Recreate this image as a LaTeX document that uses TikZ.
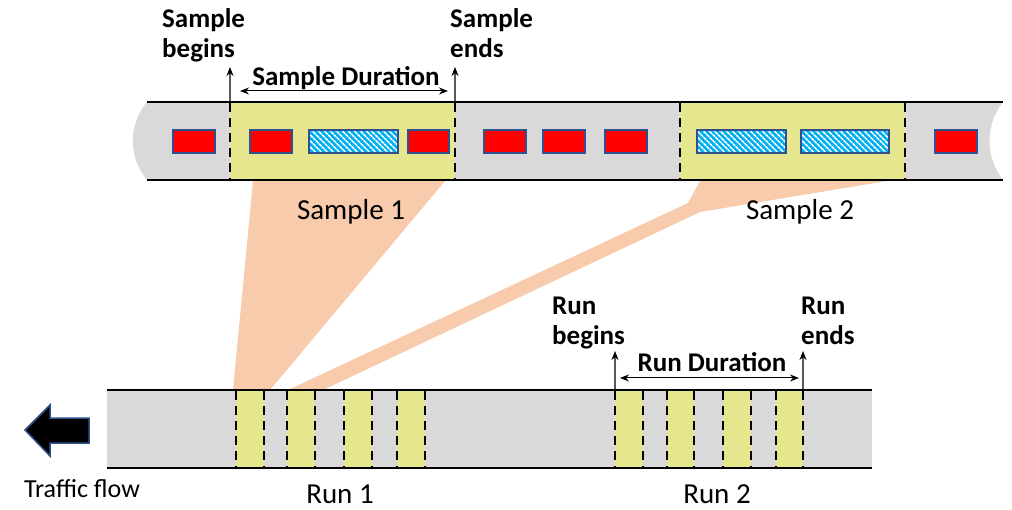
\documentclass[tikz,border=0pt]{standalone}
\usepackage{fontspec}
\setmainfont{Carlito}
\usetikzlibrary{arrows.meta,patterns.meta}
\definecolor{roadgrey}{RGB}{217,217,217}
\definecolor{sampyel}{RGB}{230,230,142}
\definecolor{peach}{RGB}{248,203,173}
\definecolor{carred}{RGB}{255,0,0}
\definecolor{carborder}{RGB}{47,82,143}
\definecolor{hatchblue}{RGB}{0,176,240}
\begin{document}
\begin{tikzpicture}[x=1pt,y=-1pt,
  roadedge/.style={line width=2.5pt,black},
  dashsep/.style={line width=2.6pt,black,dash pattern=on 9pt off 6pt},
  yelbox/.style={fill=sampyel,draw=none},
  car/.style={fill=carred,draw=carborder,line width=1.2pt},
  hatchcar/.style={fill=hatchblue,postaction={pattern={Lines[angle=-45,distance=4pt,line width=1.7pt]},pattern color=white},postaction={draw=carborder,line width=1.2pt}},
  wedge/.style={fill=peach,draw=none},
  marker/.style={gray!70!black,line width=1.1pt,-{Stealth[length=9pt,width=7pt,black]}},
  span/.style={black,line width=1pt,{Stealth[length=9pt,width=7pt]}-{Stealth[length=9pt,width=7pt]}},
  lab/.style={inner sep=0pt,font=\fontsize{29}{32}\selectfont},
  smalllab/.style={inner sep=0pt,font=\fontsize{26}{30}\selectfont},
  boldlab/.style={inner sep=0pt,font=\fontsize{27}{30}\selectfont\bfseries},
  flowarrow/.style={fill=black,draw=carborder,line width=1.5pt}
]
\useasboundingbox (0,0) rectangle (1012,510);

% zoom wedges
\fill[wedge] (253,181) -- (445,181) -- (270,390) -- (233,390) -- cycle;
\fill[wedge] (700,181) -- (887,181) -- (700,212) -- (323,390) -- (288,390) -- (688,203) -- cycle;

% upper road
\fill[roadgrey] (147,102) -- (1003,102) .. controls (985,125) and (985,157) .. (1003,180)
  -- (147,180) .. controls (128,157) and (128,125) .. (147,102) -- cycle;
\fill[yelbox] (230,102) rectangle (455,180);
\fill[yelbox] (680,102) rectangle (905,180);
\foreach \xx in {230,455,680,905} \draw[dashsep] (\xx,103) -- (\xx,180);
\draw[roadedge] (147,102) -- (1003,102);
\draw[roadedge] (147,180) -- (1003,180);

% cars
\foreach \xa/\xb in {173/215,250/292,408/449,484/526,543/585,605/647,935/977}
  \draw[car] (\xa,130) rectangle (\xb,153);
\foreach \xa/\xb in {309/398,697/786,801/889}
  \path[hatchcar] (\xa,130) rectangle (\xb,153);

% lower road
\fill[roadgrey] (107,390) rectangle (872,468);
\foreach \xa/\xb in {236/264,287/315,344/372,397/425,615/643,667/694,723/751,776/803}{
  \fill[yelbox] (\xa,390) rectangle (\xb,468);
  \draw[dashsep] (\xa,391) -- (\xa,468);
  \draw[dashsep] (\xb,391) -- (\xb,468);
}
\draw[roadedge] (107,390) -- (872,390);
\draw[roadedge] (107,468) -- (872,468);

% sample markers
\coordinate (sbBase) at (230,101);
\coordinate (sbTip) at (230,67);
\coordinate (seBase) at (455,101);
\coordinate (seTip) at (455,67);
\coordinate (sdL) at (240,91);
\coordinate (sdR) at (448,91);
\draw[marker] (sbBase) -- (sbTip);
\draw[marker] (seBase) -- (seTip);
\draw[span] (sdL) -- (sdR);

% run markers
\coordinate (rbBase) at (615,389);
\coordinate (rbTip) at (615,351);
\coordinate (reBase) at (803,389);
\coordinate (reTip) at (803,351);
\coordinate (rdL) at (620,378);
\coordinate (rdR) at (799,378);
\draw[marker] (rbBase) -- (rbTip);
\draw[marker] (reBase) -- (reTip);
\draw[span] (rdL) -- (rdR);

% traffic arrow
\draw[flowarrow] (25,430) -- (50,405) -- (50,418) -- (89,418) -- (89,443) -- (50,443) -- (50,456) -- cycle;

% labels
\node[boldlab,anchor=base west] (sb1) at (162,28) {Sample};
\node[boldlab,anchor=base west] (sb2) at (162,58) {begins};
\node[boldlab,anchor=base west] (se1) at (450,28) {Sample};
\node[boldlab,anchor=base west] (se2) at (450,58) {ends};
\node[boldlab,anchor=base] (sd) at (346,86) {Sample Duration};
\node[boldlab,anchor=base west] (rb1) at (552,315) {Run};
\node[boldlab,anchor=base west] (rb2) at (552,345) {begins};
\node[boldlab,anchor=base west] (re1) at (801,315) {Run};
\node[boldlab,anchor=base west] (re2) at (801,345) {ends};
\node[boldlab,anchor=base] (rd) at (712,372) {Run Duration};
\node[lab,anchor=base] (s1) at (351,220) {Sample 1};
\node[lab,anchor=base] (s2) at (800,220) {Sample 2};
\node[lab,anchor=base] (r1) at (340,503) {Run 1};
\node[lab,anchor=base] (r2) at (717,503) {Run 2};
\node[smalllab,anchor=base] (tf) at (82,497) {Traffic flow};
\end{tikzpicture}
\end{document}
